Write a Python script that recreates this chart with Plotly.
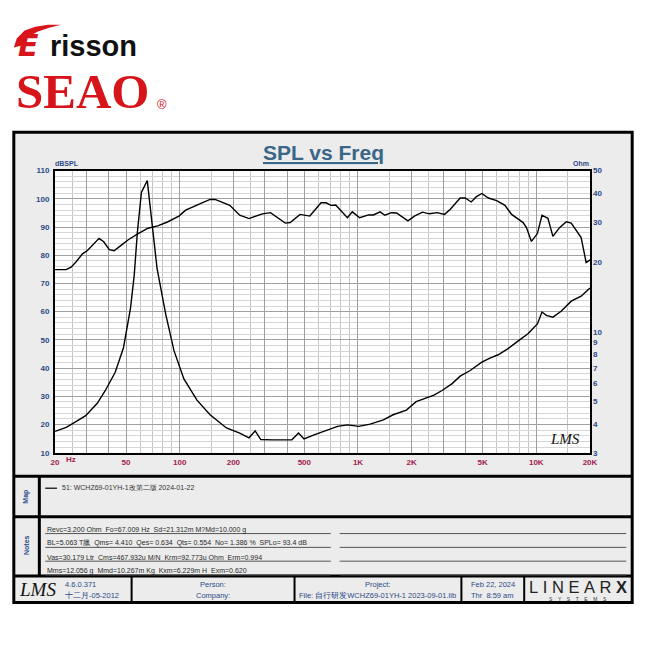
import math
import plotly.graph_objects as go

# ---------------- data ----------------
spl_freq = [20, 23.1, 24.6, 26.2, 28.5, 30.4, 35.3, 37.5, 40.3, 42.9, 47.3, 51.5, 58.5, 66.4, 75.3,
            85.4, 99, 108, 125, 148, 158, 191, 217, 245, 291, 323, 391, 417, 473, 537, 620, 662,
            705, 750, 872, 929, 1022, 1146, 1222, 1330, 1416, 1540, 1644, 1906, 2072, 2300, 2508,
            2782, 3060, 3294, 3742, 3992, 4312, 4600, 4948, 5388, 5996, 6668, 7270, 8432, 8806,
            9392, 10140, 10760, 11620, 12392, 13500, 14720, 15700, 17840, 19040, 20000]
spl_db = [74.9, 74.9, 75.8, 77.6, 80.5, 81.7, 86.0, 84.8, 82.0, 81.6, 83.7, 85.5, 87.7, 89.6, 90.4,
          91.8, 93.9, 96.0, 97.8, 99.8, 99.8, 97.7, 94.2, 93.0, 94.7, 95.1, 91.4, 91.6, 94.5, 93.9,
          98.6, 98.6, 97.7, 97.8, 93.3, 95.4, 93.3, 94.3, 94.3, 95.4, 94.2, 95.1, 95.0, 92.2, 93.9,
          95.3, 94.7, 95.1, 94.5, 96.3, 100.3, 100.3, 98.9, 100.7, 101.9, 100.3, 99.4, 97.7, 94.5,
          91.6, 89.8, 84.9, 87.7, 94.2, 93.1, 86.7, 89.8, 91.9, 91.4, 86.3, 77.4, 78.4]

imp_freq = [20, 23.1, 26.2, 29.7, 34.5, 38.3, 43.5, 48.4, 53.0, 55.6, 57.9, 61.0, 65.8, 69.2, 74.7,
            83.6, 93, 105.6, 125, 148, 183, 217, 245, 265, 285, 330, 426, 464, 498, 572, 676, 768,
            872, 1010, 1170, 1388, 1574, 1868, 2120, 2410, 2668, 2960, 3360, 3742, 4258, 4948,
            5494, 6108, 6940, 7892, 8980, 10140, 10760, 11380, 12392, 13780, 15700, 17840, 20000]
imp_ohm = [3.71, 3.86, 4.09, 4.34, 4.91, 5.58, 6.69, 8.55, 12.68, 17.6, 27.0, 40.2, 45.3, 31.8, 18.8,
           11.9, 8.28, 6.26, 5.07, 4.38, 3.84, 3.65, 3.48, 3.73, 3.42, 3.41, 3.41, 3.65, 3.44, 3.59,
           3.77, 3.90, 3.96, 3.90, 3.99, 4.16, 4.38, 4.59, 4.99, 5.19, 5.33, 5.58, 5.96, 6.44, 6.81,
           7.40, 7.71, 7.97, 8.47, 9.13, 9.82, 10.84, 12.2, 11.8, 11.6, 12.3, 13.6, 14.3, 15.5]

x_tick_vals = [20, 50, 100, 200, 500, 1000, 2000, 5000, 10000, 20000]
x_tick_text = ["20", "50", "100", "200", "500", "1K", "2K", "5K", "10K", "20K"]
x_dark_grid = [30, 40, 300, 400, 3000, 4000]
x_light_grid = [25, 60, 70, 80, 90, 150, 250, 600, 700, 800, 900, 1500, 2500, 6000, 7000, 8000,
                9000, 15000]
db_ticks = [10, 20, 30, 40, 50, 60, 70, 80, 90, 100, 110]
ohm_ticks = [3, 4, 5, 6, 7, 8, 9, 10, 20, 30, 40, 50]

notes_lines = [
    "Revc=3.200 Ohm  Fo=67.009 Hz  Sd=21.312m M?Md=10.000 g",
    "BL=5.063 T臘  Qms= 4.410  Qes= 0.634  Qts= 0.554  No= 1.386 %  SPLo= 93.4 dB",
    "Vas=30.179 Ltr  Cms=467.932u M/N  Krm=92.773u Ohm  Erm=0.994",
    "Mms=12.056 g  Mmd=10.267m Kg  Kxm=6.229m H  Exm=0.620",
]
legend_text = "51: WCHZ69-01YH-1改第二版 2024-01-22"

# ---------------- helpers ----------------
W = H = 650
def PX(p):
    return p / W
def PY(p):
    return 1 - p / H

SANS = "Liberation Sans, Arial, sans-serif"
NAVY = "#2b4a86"
CRIMSON = "#a3214f"

shapes = []
annotations = []

def rect(x0, y0, x1, y1, fill=None, line_color=None, lw=0, layer="below"):
    shapes.append(dict(type="rect", xref="paper", yref="paper", x0=PX(x0), x1=PX(x1),
                       y0=PY(y1), y1=PY(y0), fillcolor=fill or "rgba(0,0,0,0)",
                       line=dict(color=line_color or "rgba(0,0,0,0)", width=lw), layer=layer))

def line(x0, y0, x1, y1, color="black", lw=1, layer="above"):
    shapes.append(dict(type="line", xref="paper", yref="paper", x0=PX(x0), x1=PX(x1),
                       y0=PY(y0), y1=PY(y1), line=dict(color=color, width=lw), layer=layer))

def text(x, y, s, size=7, color="#222", xanchor="center", family=SANS, angle=0, weight="normal"):
    annotations.append(dict(x=PX(x), y=PY(y), xref="paper", yref="paper", text=s, showarrow=False,
                            xanchor=xanchor, yanchor="middle", textangle=angle,
                            font=dict(size=size, color=color, family=family, weight=weight)))

# ---------------- panel ----------------
rect(10, 130, 640, 607, fill="#ececec")
rect(52, 169, 597, 455, fill="white")
rect(10, 130, 640, 607, line_color="black", lw=3, layer="above")
line(10, 479, 640, 479, lw=3)
line(10, 520, 640, 520, lw=3)
line(10, 580, 640, 580, lw=3)
line(36, 479, 36, 580, lw=3)
for xs in [130, 296, 466, 530]:
    line(xs, 580, xs, 607, lw=2)

# title
text(325, 151, "<u>SPL vs Freq</u>", size=21, color="#3a6687", weight="bold")
text(50, 162, "dBSPL", size=7, color=NAVY, xanchor="left", weight="bold")
text(598, 162, "Ohm", size=7, color=NAVY, xanchor="right", weight="bold")
text(61, 462, "Hz", size=8, color=CRIMSON, xanchor="left", weight="bold")
text(572, 441, "<i>LMS</i>", size=15, color="#111", family="Liberation Serif, serif")

# map row
text(23, 500, "Map", size=7, color=NAVY, angle=-90, weight="bold")
line(42, 491, 54, 491, lw=1.2)
text(57, 491, legend_text, size=7, color="#333", xanchor="left")

# notes row
text(23, 549, "Notes", size=7, color=NAVY, angle=-90, weight="bold")
for i, s in enumerate(notes_lines):
    yy = 533 + 14 * i
    text(42, yy, s, size=7, color="#2a2a2a", xanchor="left")
    line(42, yy + 4, 333, yy + 4, color="#555", lw=1)
    line(342, yy + 4, 634, yy + 4, color="#555", lw=1)

# footer
text(34, 594, "<i>LMS</i>", size=19, color="#111", family="Liberation Serif, serif")
text(60, 589, "4.6.0.371", size=7.5, color=NAVY, xanchor="left")
text(60, 600, "十二月-05-2012", size=7.5, color=NAVY, xanchor="left")
text(213, 589, "Person:", size=7.5, color=NAVY)
text(213, 600, "Company:", size=7.5, color=NAVY)
text(381, 589, "Project:", size=7.5, color=NAVY)
text(381, 600, "File: 自行研发WCHZ69-01YH-1 2023-09-01.lib", size=7.5, color=NAVY)
text(498, 589, "Feb 22, 2024", size=7.5, color=NAVY)
text(498, 600, "Thr  8:59 am", size=7.5, color=NAVY)
text(585, 591, "L\u00a0I\u00a0N\u00a0E\u00a0A\u00a0R\u00a0<b>X</b>", size=16.5, color="#222")
text(585, 603, "S\u00a0\u00a0\u00a0\u00a0Y\u00a0\u00a0\u00a0\u00a0S\u00a0\u00a0\u00a0\u00a0T\u00a0\u00a0\u00a0\u00a0E\u00a0\u00a0\u00a0\u00a0M\u00a0\u00a0\u00a0\u00a0S",
     size=5, color="#333")

# logos
def path_px(pts):
    s = "M " + " L ".join(f"{PX(x):.4f},{PY(y):.4f}" for x, y in pts) + " Z"
    return s
swoosh = [(10, 44), (13, 35), (21, 27), (32, 23), (45, 21), (58, 21), (46, 24), (34, 28), (24, 34), (18, 42)]
shapes.append(dict(type="path", xref="paper", yref="paper", path=path_px(swoosh),
                   fillcolor="#d9141b", line=dict(width=0), layer="above"))
text(25, 42, "<i>E</i>", size=30, color="#d9141b", family="DejaVu Sans, sans-serif", weight="bold")
text(91, 43, "risson", size=29, color="#111", family="Liberation Sans, Arial", weight="bold")
text(80, 89, "SEAO", size=49, color="#d7141a", family="Liberation Serif, Times New Roman, serif", weight="bold")
text(161, 102, "®", size=13, color="#d7141a")

# ---------------- traces ----------------
fig = go.Figure()
fig.add_trace(go.Scatter(x=spl_freq, y=spl_db, mode="lines", line=dict(color="black", width=1.4),
                         xaxis="x", yaxis="y", showlegend=False, hoverinfo="skip"))
fig.add_trace(go.Scatter(x=imp_freq, y=imp_ohm, mode="lines", line=dict(color="black", width=1.4),
                         xaxis="x", yaxis="y2", showlegend=False, hoverinfo="skip"))

x_vals = x_tick_vals + x_dark_grid
x_text = x_tick_text + [""] * len(x_dark_grid)

fig.update_layout(
    width=W, height=H, margin=dict(l=0, r=0, t=0, b=0),
    paper_bgcolor="white", plot_bgcolor="white",
    shapes=shapes, annotations=annotations, showlegend=False,
    xaxis=dict(type="log", range=[math.log10(20), math.log10(20000)], domain=[PX(52), PX(597)],
               tickmode="array", tickvals=x_vals, ticktext=x_text, ticks="",
               tickfont=dict(size=8, color=CRIMSON, family=SANS, weight="bold"),
               ticklabelstandoff=1,
               showgrid=True, gridcolor="#9e9e9e", gridwidth=1,
               minor=dict(tickvals=x_light_grid, showgrid=True, gridcolor="#c6c6c6", gridwidth=1, ticks=""),
               showline=True, linecolor="black", linewidth=2, mirror=True, zeroline=False, anchor="y"),
    yaxis=dict(range=[10, 110], domain=[PY(455), PY(169)], tickmode="array", tickvals=db_ticks,
               ticks="", tickfont=dict(size=8, color=NAVY, family=SANS, weight="bold"),
               ticklabelstandoff=2,
               showgrid=True, gridcolor="#a0a0a0", gridwidth=1,
               minor=dict(tick0=10, dtick=2, showgrid=True, gridcolor="#d6d6d6", gridwidth=1, ticks=""),
               showline=True, linecolor="black", linewidth=2, mirror=True, zeroline=False, anchor="x"),
    yaxis2=dict(type="log", range=[math.log10(3), math.log10(50)], overlaying="y", side="right",
                anchor="x", tickmode="array", tickvals=ohm_ticks, ticks="",
                tickfont=dict(size=8, color=NAVY, family=SANS, weight="bold"),
                ticklabelstandoff=2, showgrid=False, showline=False, zeroline=False),
)

fig.write_html("out.html")
